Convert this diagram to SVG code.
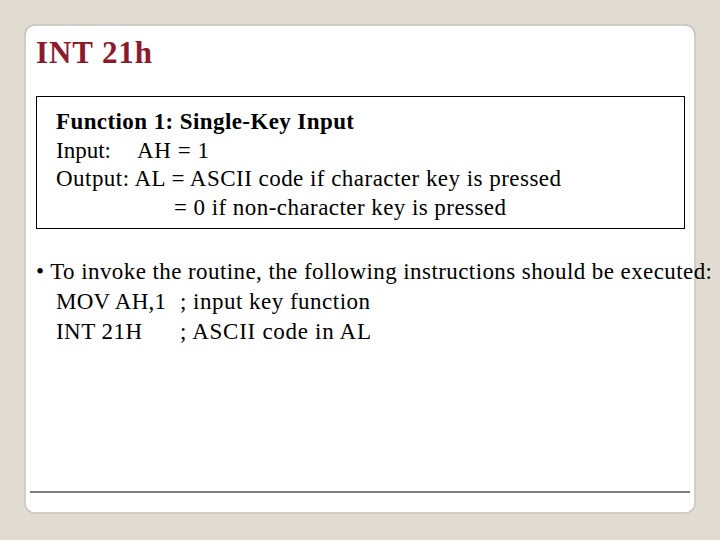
<svg xmlns="http://www.w3.org/2000/svg" width="720" height="540" viewBox="0 0 720 540">
<style>
.t{font-family:"Liberation Serif",serif;font-size:23px;fill:#000}
</style>
<rect width="720" height="540" fill="#E0DCD2"/>
<rect x="25" y="25" width="670" height="488" rx="10" fill="#fff" stroke="#c8c4bc" stroke-width="1.5"/>
<g id="title"><text x="36" y="63" font-family="Liberation Serif,serif" font-size="31" font-weight="bold" fill="#8B1A2E" textLength="116" lengthAdjust="spacing">INT 21h</text></g>
<g id="box">
<rect x="36.5" y="96.5" width="648" height="132" fill="#fff" stroke="#000" stroke-width="1"/>
<text class="t" x="56" y="129" font-weight="bold" textLength="298" lengthAdjust="spacing">Function 1: Single-Key Input</text>
<text class="t" x="56" y="158">Input:</text>
<text class="t" x="137" y="158" textLength="72" lengthAdjust="spacing">AH = 1</text>
<text class="t" x="56" y="186" textLength="505" lengthAdjust="spacing">Output: AL = ASCII code if character key is pressed</text>
<text class="t" x="174" y="215" textLength="332" lengthAdjust="spacing">= 0 if non-character key is pressed</text>
</g>
<g id="body">
<text class="t" x="36" y="279" textLength="676" lengthAdjust="spacing">• To invoke the routine, the following instructions should be executed:</text>
<text class="t" x="56" y="309" textLength="110" lengthAdjust="spacing">MOV AH,1</text>
<text class="t" x="180" y="309" textLength="190" lengthAdjust="spacing">; input key function</text>
<text class="t" x="56" y="339" textLength="86" lengthAdjust="spacing">INT 21H</text>
<text class="t" x="180" y="339" textLength="191" lengthAdjust="spacing">; ASCII code in AL</text>
</g>
<line x1="30" y1="492" x2="690" y2="492" stroke="#000" stroke-width="1"/>
</svg>
